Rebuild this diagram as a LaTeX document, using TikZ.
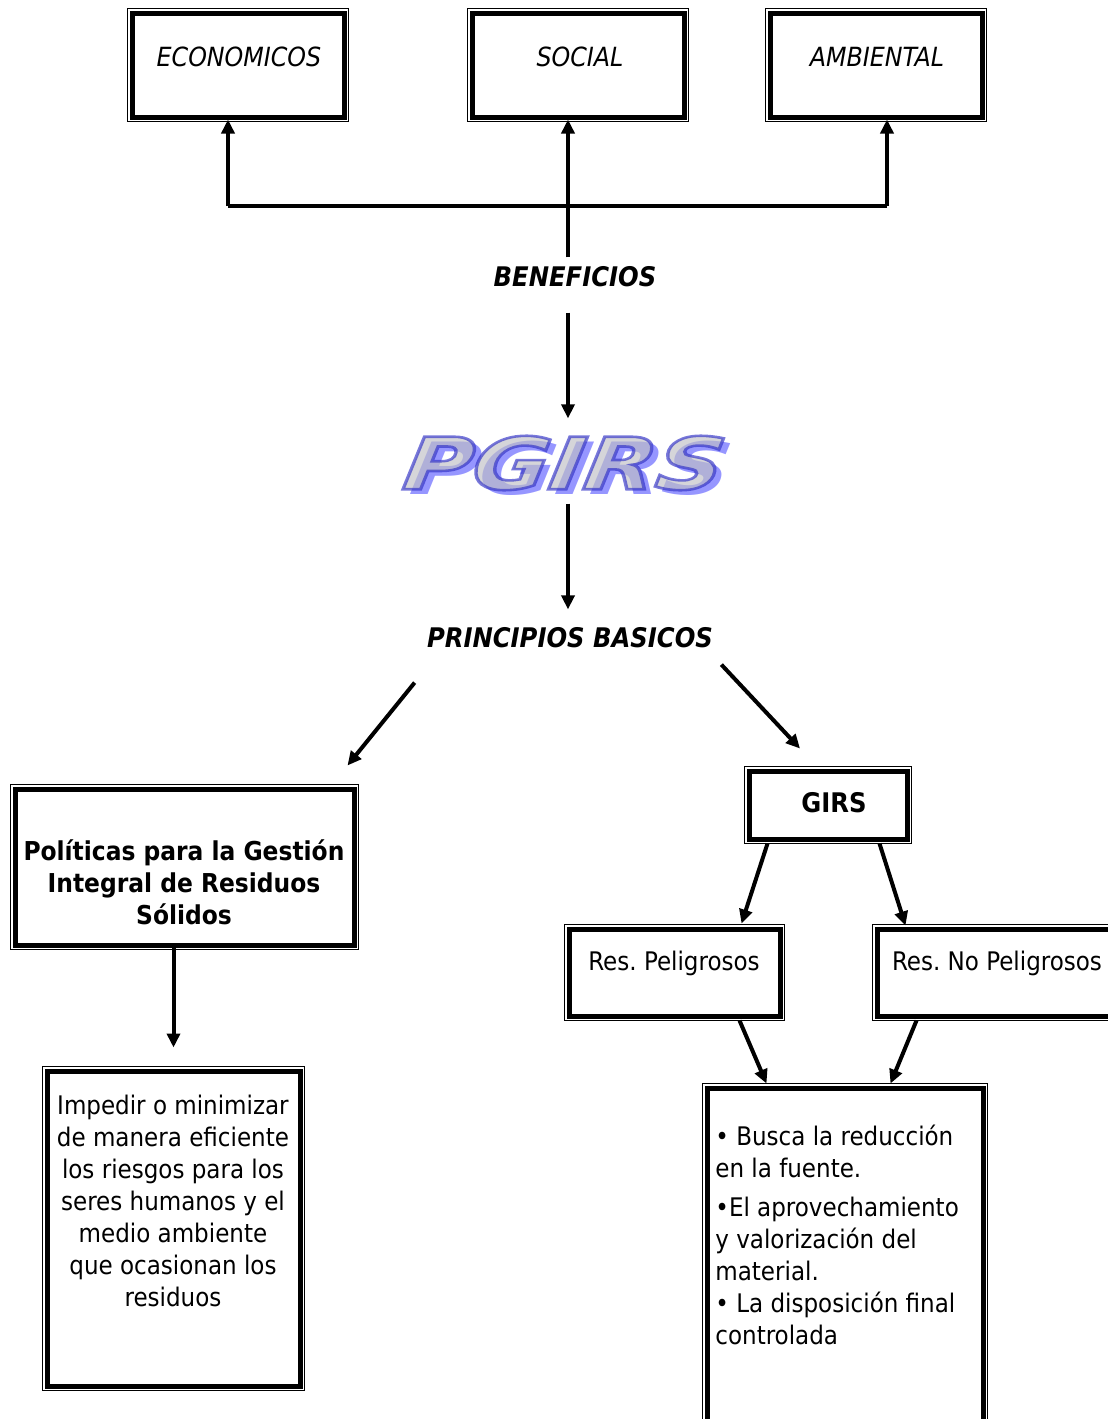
\documentclass[tikz,border=0pt]{standalone}
\usepackage{fontspec}
\setmainfont{DejaVu Sans Condensed}
\newfontfamily\logofont{DejaVu Sans}
\usetikzlibrary{arrows.meta,positioning}
\definecolor{pgface}{RGB}{190,190,196}
\definecolor{pgshadow}{RGB}{150,150,255}
\frenchspacing
% filled letters with a blue stroke round them
\newcommand\outlined[1]{\special{pdf:code q 2 Tr 1.3 w 0.19 0.19 0.78 RG}#1\special{pdf:code Q}}

\tikzset{
  dblbox/.style={draw, line width=2.5pt, fill=white, inner sep=0pt,
    preaction={draw, line width=5pt}, preaction={draw=white, line width=4pt}},
  lbl/.style={inner sep=0pt, font=\fontsize{12.8pt}{16pt}\selectfont},
  head/.style={inner sep=0pt, font=\fontsize{13.5pt}{16pt}\selectfont\bfseries\itshape},
  logo/.style={inner sep=0pt, xscale=1.3, xslant=0.12,
    font=\logofont\fontsize{36pt}{36pt}\selectfont\bfseries\itshape},
  conn/.style={line width=2pt},
  arr/.style={line width=2pt, -{Triangle[length=7pt,width=6.5pt]}}
}

\begin{document}
\begin{tikzpicture}[x=0.5pt, y=-0.5pt]
  \useasboundingbox (0,0) rectangle (1108,1419);

  %%%%% boxes %%%%%
  \node[dblbox, minimum width=106pt, minimum height=52pt] (econ) at (238,65) {};
  \node[dblbox, minimum width=106pt, minimum height=52pt] (soc) at (578,65) {};
  \node[dblbox, minimum width=106pt, minimum height=52pt] (amb) at (876,65) {};
  \node[dblbox, minimum width=169.5pt, minimum height=78pt] (pol) at (184.5,867) {};
  \node[dblbox, minimum width=126.5pt, minimum height=157.5pt] (imp) at (173.5,1228.5) {};
  \node[dblbox, minimum width=79pt, minimum height=34pt] (gi) at (828,805) {};
  \node[dblbox, minimum width=105.5pt, minimum height=43.5pt] (resp) at (674.5,972.5) {};
  \node[dblbox, minimum width=122.5pt, minimum height=43.5pt] (resnp) at (999.5,972.5) {};
  \node[dblbox, minimum width=138pt, minimum height=181pt] (acc) at (845,1269) {};

  %%%%% texts %%%%%
  \node[lbl, font=\fontsize{13.2pt}{16pt}\selectfont\itshape] (econ-t) at (239,57) {ECONOMICOS};
  \node[lbl, font=\fontsize{13.2pt}{16pt}\selectfont\itshape] (soc-t) at (580,57) {SOCIAL};
  \node[lbl, font=\fontsize{13.2pt}{16pt}\selectfont\itshape] (amb-t) at (877,57) {AMBIENTAL};
  \node[head] (benef) at (575,277) {BENEFICIOS};
  \node[head] (princ) at (570,638) {PRINCIPIOS BASICOS};
  \node[lbl, font=\fontsize{13pt}{16pt}\selectfont\bfseries, align=center] (pol-t) at (184,882)
    {Políticas para la Gestión\\Integral de Residuos\\Sólidos};
  \node[lbl, align=center] (imp-t) at (173,1201)
    {Impedir o minimizar\\de manera eficiente\\los riesgos para los\\seres humanos y el\\medio ambiente\\que ocasionan los\\residuos};
  \node[lbl, font=\fontsize{13.5pt}{16pt}\selectfont\bfseries] (gi-t) at (834,803) {GIRS};
  \node[lbl] (resp-t) at (674,963) {Res. Peligrosos};
  \node[lbl] (resnp-t) at (997,963) {Res. No Peligrosos};
  \node[lbl, align=left, anchor=north west] (acc-t) at (715,1125)
    {• Busca la reducción\\en la fuente.\\[3.5pt]•El aprovechamiento\\y valorización del\\material.\\• La disposición final\\controlada};

  %%%%% logo %%%%%
  \node[logo, text=pgshadow] (pgirs-s) at ([shift={(7,5)}]565,463) {PGIRS};
  \node[logo, text=pgface, text opacity=0.65] (pgirs) at (565,463) {\outlined{PGIRS}};

  %%%%% connectors %%%%%
  \coordinate (fork) at (568,206);
  \coordinate (forkL) at (228,206);
  \coordinate (forkR) at (887,206);
  \draw[conn] (forkL) -- (forkR);
  \draw[arr] (forkL) -- (forkL |- econ.south);
  \draw[arr, shorten <=4.5pt] (benef.north -| fork) -- (fork |- soc.south);
  \draw[arr] (forkR) -- (forkR |- amb.south);

  \draw[arr, shorten <=12.5pt, shorten >=8.5pt] (benef.south -| fork) -- (pgirs.north -| fork);
  \draw[arr, shorten <=6.5pt, shorten >=9pt] (pgirs.south -| fork) -- (princ.north -| fork);

  \draw[arr] ([shift={(-12,34)}]princ.south west) -- ([shift={(-9,-21)}]pol.north east);
  \draw[arr] ([shift={(8,16)}]princ.south east) -- ([shift={(-28,-20)}]gi.north);
  \draw[arr, shorten >=10.5pt] (pol.south -| imp.north) -- (imp.north);

  \draw[arr] ([shift={(21,2)}]gi.south west) -- ([shift={(-41,-3)}]resp.north east);
  \draw[arr] ([shift={(-30,2)}]gi.south east) -- ([shift={(31,-1)}]resnp.north west);
  \draw[arr] ([shift={(-43,2)}]resp.south east) -- ([shift={(62,-2)}]acc.north west);
  \draw[arr] ([shift={(42,2)}]resnp.south west) -- ([shift={(-95,-2)}]acc.north east);
\end{tikzpicture}
\end{document}
